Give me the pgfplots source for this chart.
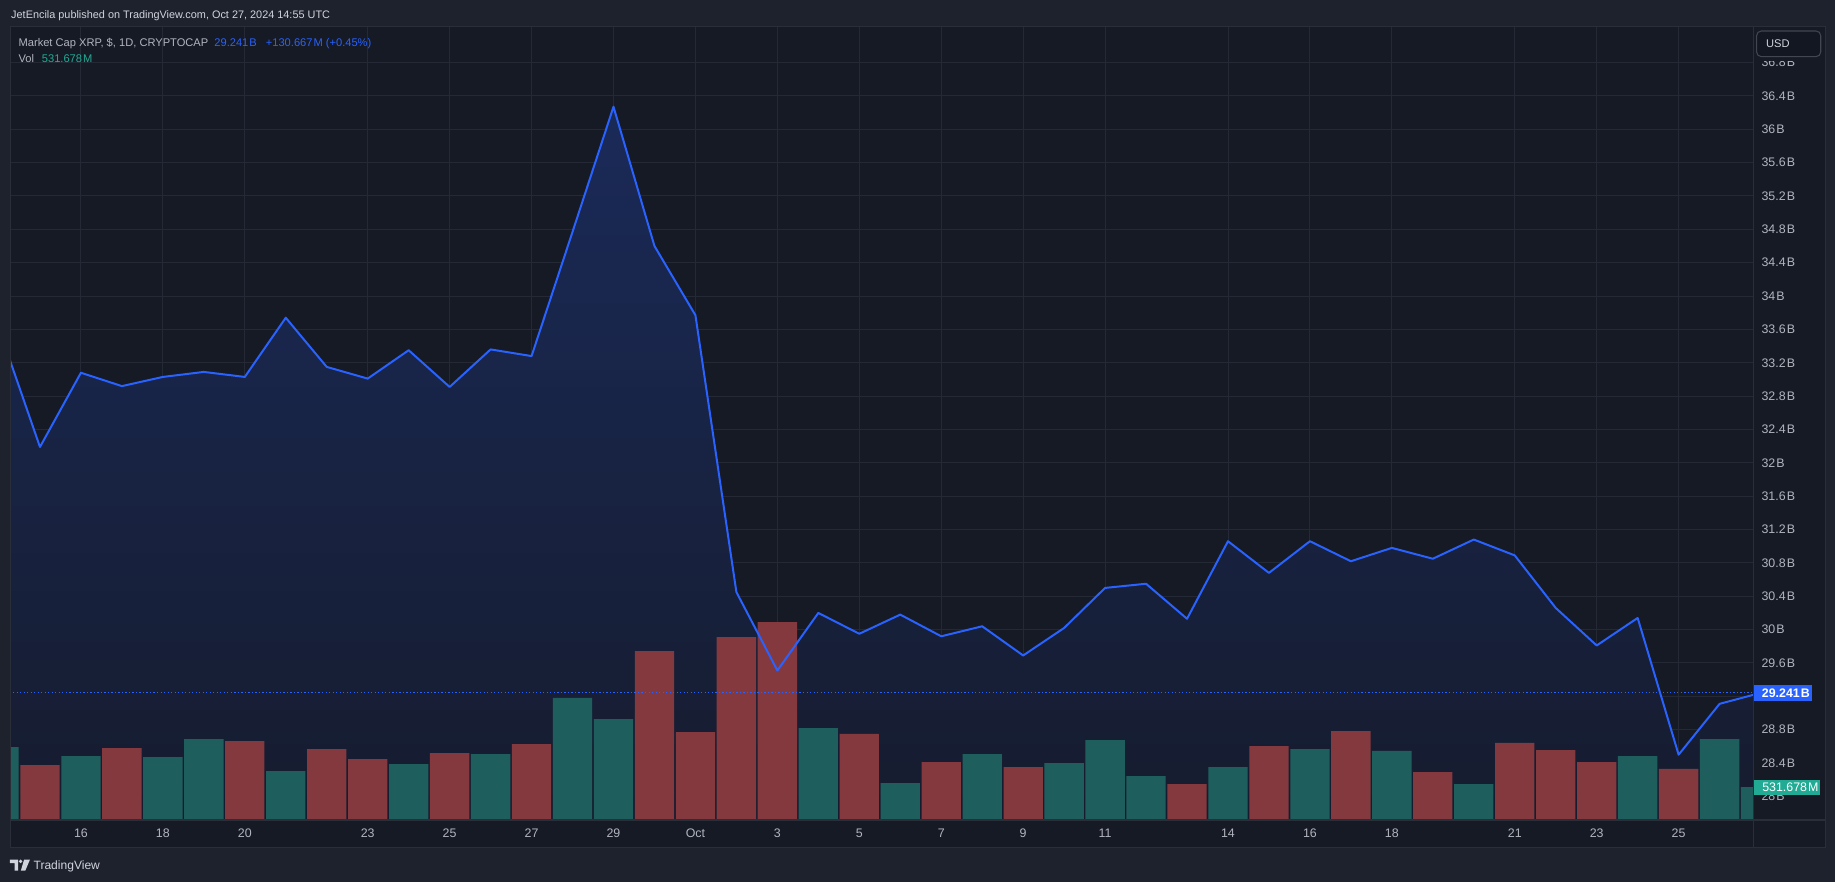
\documentclass[border=0pt]{standalone}
\usepackage{pgfplots}
\pgfplotsset{compat=1.18}
\usepackage{pgfplotstable}
\usepackage{fontspec}
\setmainfont{Liberation Sans}
\definecolor{outerbg}{HTML}{1E222D}
\definecolor{panebg}{HTML}{161A25}
\definecolor{gridc}{HTML}{252936}
\definecolor{borderc}{HTML}{2A2E39}
\definecolor{tvblue}{HTML}{2962FF}
\definecolor{areatop}{HTML}{1A2A58}
\definecolor{areabot}{HTML}{161C2E}
\definecolor{volupc}{HTML}{1E5F5E}
\definecolor{voldnc}{HTML}{84393E}
\definecolor{labc}{HTML}{B2B5BE}
\definecolor{txtc}{HTML}{D1D4DC}
\definecolor{tealbr}{HTML}{22AB94}
\definecolor{btnborder}{HTML}{434651}
\definecolor{btnbg}{HTML}{131722}

% day index: Sep 15 = 15, Oct 1 = 31, Oct 27 = 57 ; market cap in billions USD
\pgfplotstableread{
d v
14 33.61
15 32.19
16 33.08
17 32.92
18 33.03
19 33.09
20 33.03
21 33.74
22 33.15
23 33.01
24 33.35
25 32.91
26 33.36
27 33.28
28 34.77
29 36.27
30 34.60
31 33.77
32 30.45
33 29.51
34 30.20
35 29.95
36 30.18
37 29.92
38 30.04
39 29.69
40 30.02
41 30.50
42 30.55
43 30.13
44 31.06
45 30.68
46 31.06
47 30.82
48 30.98
49 30.85
50 31.08
51 30.89
52 30.26
53 29.81
54 30.14
55 28.50
56 29.11
57 29.241
}\price

% volume in millions, up days
\pgfplotstableread{
d v
14 1176
16 1031
18 1015
19 1305
21 789
24 902
26 1063
28 1966
29 1627
34 1482
36 596
38 1063
40 918
41 1289
42 709
44 854
46 1144
48 1112
50 580
54 1031
56 1305
57 531.678
}\volup

% volume in millions, down days
\pgfplotstableread{
d v
15 886
17 1160
20 1273
22 1144
23 983
25 1079
27 1224
30 2723
31 1418
32 2948
33 3190
35 1386
37 934
39 854
43 580
45 1192
47 1434
49 773
51 1241
52 1128
53 934
55 822
}\voldn

\pgfplotsset{
  tvbase/.style={
    at={(8.6pt,53.3pt)}, anchor=south west,
    width=1489.8pt, height=677.9pt, scale only axis,
    xmin=14.27, xmax=56.83,
    axis line style={draw=none},
    tick style={draw=none},
  },
  /pgf/number format/assume math mode=true,
}

\newcommand{\axfont}{\fontsize{10.6}{12}\selectfont}
\newcommand{\lgfont}{\fontsize{9.5}{11}\selectfont}

\begin{document}
\begin{tikzpicture}[x=1pt,y=1pt]
\useasboundingbox (0,0) rectangle (1568,754);
\fill[outerbg] (0,0) rectangle (1568,754);
\fill[panebg] (8.6,29.7) rectangle (1559.5,731.2);

% ---- axis 1: grid, area, tick labels
\begin{axis}[tvbase,
  ymin=27.717, ymax=37.23,
  xtick={16,18,20,23,25,27,29,31,33,35,37,39,41,44,46,48,51,53,55},
  xticklabels={16,18,20,23,25,27,29,Oct,3,5,7,9,11,14,16,18,21,23,25},
  ytick={28,28.4,28.8,29.6,30,30.4,30.8,31.2,31.6,32,32.4,32.8,33.2,33.6,34,34.4,34.8,35.2,35.6,36,36.4,36.8},
  extra y ticks={29.2}, extra y tick labels={},
  extra y tick style={grid=major},
  yticklabel={\pgfmathprintnumber[fixed,precision=1]{\tick}\kern0.09em B},
  yticklabel pos=right,
  xmajorgrids, ymajorgrids,
  major grid style={draw=gridc, line width=0.85pt},
  xticklabel style={font=\axfont, text=labc, anchor=center, inner sep=0pt, yshift=-11.3pt},
  yticklabel style={font=\axfont, text=labc, anchor=west, inner sep=0pt, xshift=6.6pt},
]
\addplot[draw=none, top color=areatop, bottom color=areabot] table[x=d,y=v] {\price}
  -- (axis cs:57,27.717) -- (axis cs:14,27.717) -- cycle;
\end{axis}

% ---- axis 2: volume
\begin{axis}[tvbase, ymin=0, ymax=12783, ticks=none]
\addplot[ybar, bar width=0.96, bar shift=0pt, fill=volupc, draw=none] table[x=d,y=v] {\volup};
\addplot[ybar, bar width=0.96, bar shift=0pt, fill=voldnc, draw=none] table[x=d,y=v] {\voldn};
\coordinate (vlast) at (axis cs:56.83,531.678);
\end{axis}

% ---- axis 3: line
\begin{axis}[tvbase, ymin=27.717, ymax=37.23, ticks=none]
\addplot[tvblue, line width=0.9pt, dash pattern=on 1.1pt off 1.9pt] coordinates {(14,29.241) (57,29.241)};
\addplot[tvblue, line width=1.7pt, line join=round] table[x=d,y=v] {\price};
\coordinate (plast) at (axis cs:56.83,29.241);
\end{axis}

% borders
\draw[borderc, line width=0.9pt] (8.6,29.7) rectangle (1559.5,731.2);
\draw[borderc, line width=0.9pt] (1498.4,29.7) -- (1498.4,731.2);
\draw[borderc, line width=0.9pt] (8.6,53.3) -- (1559.5,53.3);

% mask + USD button
\fill[panebg] (1499.2,701.5) rectangle (1559,730.5);
\draw[btnborder, fill=btnbg, line width=0.9pt, rounded corners=4pt] (1501,705.6) rectangle (1555.8,727.5);
\node[anchor=base west, inner sep=0pt, text=txtc, font=\lgfont] at (1509,713.1) {USD};

% last price label
\fill[tvblue] ([shift={(0.4pt,-7.15pt)}]plast) rectangle ([shift={(49.6pt,7.15pt)}]plast);
\node[anchor=west, inner sep=0pt, text=white, font=\axfont\bfseries] at ([xshift=6.9pt]plast) {29.241\kern0.09em B};

% last volume label
\fill[tealbr] ([shift={(0.6pt,-7.1pt)}]vlast) rectangle ([shift={(56.6pt,6.4pt)}]vlast);
\node[anchor=west, inner sep=0pt, text=white, font=\axfont] at ([xshift=7.2pt,yshift=-0.35pt]vlast) {531.678\kern0.09em M};

% header
\node[anchor=base west, inner sep=0pt, text=txtc, font=\fontsize{9.3}{11}\selectfont] at (9.4,738) {JetEncila published on TradingView.com, Oct 27, 2024 14:55 UTC};

% legend
\node[anchor=base west, inner sep=0pt, text=labc, font=\lgfont] at (15.7,714.1) {Market Cap XRP, \$, 1D, CRYPTOCAP};
\node[anchor=base west, inner sep=0pt, text=tvblue, font=\lgfont] at (183,714.1) {29.241\kern0.09em B};
\node[anchor=base west, inner sep=0pt, text=tvblue, font=\lgfont] at (227,714.1) {+130.667\kern0.09em M (+0.45\%)};
\node[anchor=base west, inner sep=0pt, text=labc, font=\lgfont] at (15.7,700.6) {Vol};
\node[anchor=base west, inner sep=0pt, text=tealbr, font=\lgfont] at (35.6,700.6) {531.678\kern0.09em M};

% footer logo
\fill[txtc] (8.5,19.5) -- (15.5,19.5) -- (15.5,10) -- (12.5,10) -- (12.5,16.5) -- (8.5,16.5) -- cycle;
\fill[txtc] (17.6,18) circle (1.6);
\fill[txtc] (20.6,19.5) -- (25.6,19.5) -- (21.6,10) -- (17.8,10) -- cycle;
\node[anchor=base west, inner sep=0pt, text=txtc, font=\fontsize{10.3}{12}\selectfont] at (28.5,11.3) {TradingView};
\end{tikzpicture}
\end{document}
